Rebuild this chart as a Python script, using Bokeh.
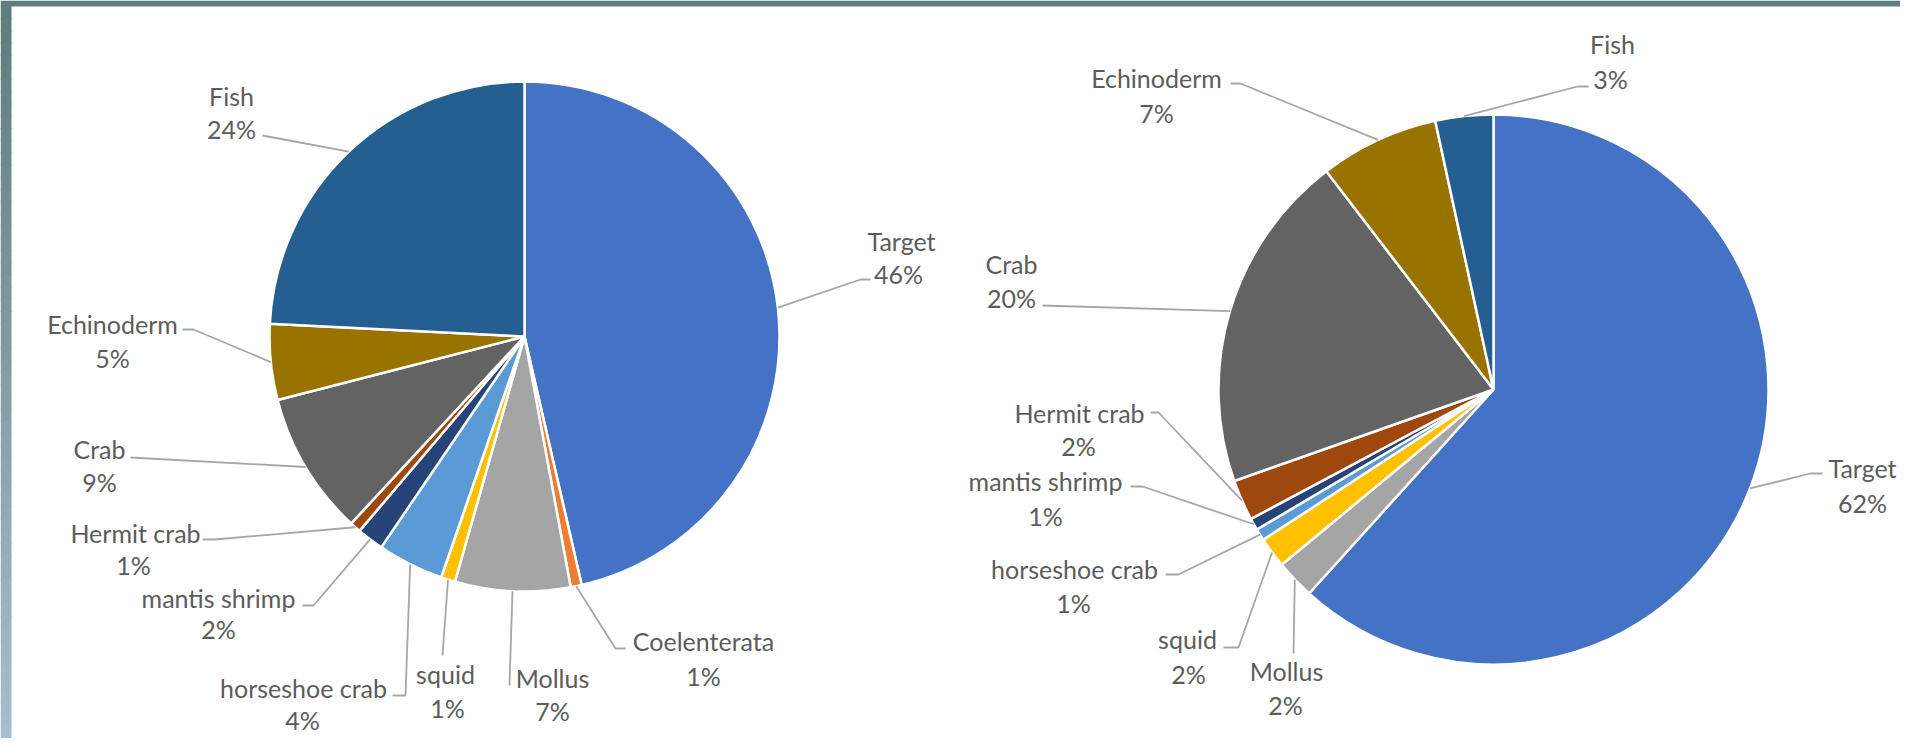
import numpy as np
from bokeh.plotting import figure
from bokeh.models import Range1d
from bokeh.core.properties import value
from bokeh.embed import file_html
from bokeh.resources import INLINE

# ---------------- data ----------------
left_categories = ["Target", "Coelenterata", "Mollus", "squid", "horseshoe crab",
                   "mantis shrimp", "Hermit crab", "Crab", "Echinoderm", "Fish"]
left_values = [46.4, 0.7, 7.3, 0.9, 4.2, 1.7, 0.7, 9.1, 4.8, 24.2]

right_categories = ["Target", "Mollus", "squid", "horseshoe crab", "mantis shrimp",
                    "Hermit crab", "Crab", "Echinoderm", "Fish"]
right_values = [61.7, 2.3, 1.8, 0.7, 0.7, 2.4, 20.0, 7.0, 3.4]

# ---------------- styles ----------------
COLORS = {
    "Target": "#4472C4", "Coelenterata": "#ED7D31", "Mollus": "#A5A5A5",
    "squid": "#FFC000", "horseshoe crab": "#5B9BD5", "mantis shrimp": "#264478",
    "Hermit crab": "#9E480E", "Crab": "#636363", "Echinoderm": "#997300",
    "Fish": "#255E91",
}
TEXT_COLOR = "#5c5c5c"
LEADER_COLOR = "#a6a6a6"
FONT = value("Lato")
FONT_SIZE = "25px"

FW, FH = 1900, 738   # figure size
H = FH               # reference pixel space: y measured downward from figure top

# ---------------- layout (label placement, y downward) ----------------
LEFT_PIE = dict(cx=524, cy=336, r=255)
RIGHT_PIE = dict(cx=1493, cy=389, r=275)

# name center, percent center, leader points near the label (arc point is computed)
LEFT_LAYOUT = {
    "Target": ((901, 240), (898, 273), [(870, 279), (860, 279)]),
    "Coelenterata": ((703, 640), (703, 675), [(625, 648), (615, 648)]),
    "Mollus": ((552, 677), (552, 710), [(509, 685)]),
    "squid": ((445, 673), (447, 707), [(442, 655)]),
    "horseshoe crab": ((303, 687), (302, 719), [(392, 695), (405, 695)]),
    "mantis shrimp": ((218, 597), (218, 628), [(302, 605), (313, 605)]),
    "Hermit crab": ((135, 532), (133, 564), [(202, 539), (214, 539)]),
    "Crab": ((99, 448), (99, 481), [(130, 457)]),
    "Echinoderm": ((112, 323), (112, 357), [(182, 329), (193, 329)]),
    "Fish": ((231, 95), (231, 128), [(262, 135)]),
}
RIGHT_LAYOUT = {
    "Target": ((1862, 467), (1862, 502), [(1822, 473), (1810, 473)]),
    "Mollus": ((1286, 670), (1285, 704), [(1293, 653)]),
    "squid": ((1187, 638), (1188, 673), [(1223, 647), (1238, 647)]),
    "horseshoe crab": ((1074, 568), (1073, 602), [(1165, 574), (1178, 574)]),
    "mantis shrimp": ((1045, 480), (1045, 515), [(1130, 486), (1142, 486)]),
    "Hermit crab": ((1079, 412), (1078, 445), [(1150, 412), (1158, 412)]),
    "Crab": ((1011, 263), (1011, 297), [(1042, 305)]),
    "Echinoderm": ((1156, 77), (1156, 112), [(1230, 83), (1240, 83)]),
    "Fish": ((1612, 43), (1610, 78), [(1588, 86), (1577, 86)]),
}

p = figure(width=FW, height=FH, output_backend="svg", toolbar_location=None,
           x_range=Range1d(0, FW), y_range=Range1d(0, FH),
           min_border=0, min_border_left=0, min_border_right=0,
           min_border_top=0, min_border_bottom=0)
p.xaxis.visible = False
p.yaxis.visible = False
p.grid.visible = False
p.outline_line_color = None
p.background_fill_color = "white"
p.border_fill_color = "white"

# slide frame decoration: top band, left gradient strip
n = 60
ys = np.linspace(6, FH, n + 1)
c0 = np.array([95, 125, 125])
c1 = np.array([168, 190, 206])
cols = []
for i in range(n):
    t = i / (n - 1)
    c = (c0 * (1 - t) + c1 * t).astype(int)
    cols.append("#%02x%02x%02x" % tuple(c))
p.quad(left=[0] * n, right=[11] * n, top=list(H - ys[:-1] + 0.5), bottom=list(H - ys[1:] - 0.5),
       fill_color=cols, line_color=None)
p.quad(left=[0], right=[FW], top=[H], bottom=[H - 6], fill_color="#607e7e", line_color=None)


def draw_pie(cats, vals, pie, layout):
    vals = np.asarray(vals, dtype=float)
    total = vals.sum()
    cum = np.concatenate([[0.0], np.cumsum(vals)]) / total * 2 * np.pi
    cx, cy, r = pie["cx"], pie["cy"], pie["r"]
    starts = list(np.pi / 2 - cum[:-1])
    ends = list(np.pi / 2 - cum[1:])
    p.wedge(x=[cx] * len(cats), y=[H - cy] * len(cats), radius=r, radius_units="screen",
            start_angle=starts, end_angle=ends, direction="clock",
            fill_color=[COLORS[c] for c in cats], line_color="white", line_width=2.5)

    xs, ysl = [], []
    tx, ty, tt = [], [], []
    for i, c in enumerate(cats):
        mid = (cum[i] + cum[i + 1]) / 2
        ax = cx + r * np.sin(mid)
        ay = cy - r * np.cos(mid)
        name_pos, pct_pos, pts = layout[c]
        line = list(pts) + [(ax, ay)]
        xs.append([q[0] for q in line])
        ysl.append([H - q[1] for q in line])
        pct = int(round(vals[i] / total * 100))
        tx += [name_pos[0], pct_pos[0]]
        ty += [H - name_pos[1], H - pct_pos[1]]
        tt += [c, f"{pct}%"]
    p.multi_line(xs=xs, ys=ysl, line_color=LEADER_COLOR, line_width=1.8)
    p.text(x=tx, y=ty, text=tt, text_align="center", text_baseline="middle",
           text_font=FONT, text_font_size=FONT_SIZE, text_color=TEXT_COLOR)


draw_pie(left_categories, left_values, LEFT_PIE, LEFT_LAYOUT)
draw_pie(right_categories, right_values, RIGHT_PIE, RIGHT_LAYOUT)

open("out.html", "w").write(file_html(p, INLINE))
